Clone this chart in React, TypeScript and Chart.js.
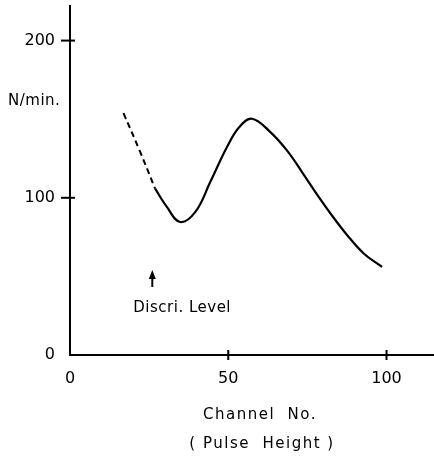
import React, { useEffect, useRef } from "react";
import { Chart, registerables } from "chart.js";

Chart.register(...registerables);

const dashedChannels = [16.9, 22, 26.9];
const dashedCounts = [153.8, 130, 105.8];
const solidChannels = [26.9, 30.6, 34.8, 39.6, 44.3, 49.6, 53.5, 57.5, 63.3, 68.6, 73.3, 78.6, 82.3, 87.6, 92.8, 98.6];
const solidCounts = [105.8, 94.2, 84.6, 91, 110, 132.3, 145, 150.3, 141.8, 130, 116.4, 100.5, 90, 76.2, 64.6, 56];
const xTickValues = [0, 50, 100];
const yTickValues = [0, 100, 200];
const discriLevel = 26;
const FONT = "DejaVu Sans";

const annotations = {
  id: "annotations",
  afterDraw(chart: any) {
    const ctx = chart.ctx;
    const xs = chart.scales.x;
    const ys = chart.scales.y;
    ctx.save();
    ctx.strokeStyle = "#000";
    ctx.fillStyle = "#000";
    ctx.lineWidth = 2;
    const x0 = xs.left;
    const y0 = ys.bottom;
    yTickValues.forEach((v) => {
      if (v === 0) return;
      const py = ys.getPixelForValue(v);
      ctx.beginPath();
      ctx.moveTo(x0 - 9, py);
      ctx.lineTo(x0 + 5, py);
      ctx.stroke();
    });
    xTickValues.forEach((v) => {
      if (v === 0) return;
      const px = xs.getPixelForValue(v);
      ctx.beginPath();
      ctx.moveTo(px, y0 - 5);
      ctx.lineTo(px, y0 + 5);
      ctx.stroke();
    });
    const ax = xs.getPixelForValue(discriLevel);
    ctx.beginPath();
    ctx.moveTo(ax, 287);
    ctx.lineTo(ax, 276);
    ctx.stroke();
    ctx.beginPath();
    ctx.moveTo(ax, 270);
    ctx.lineTo(ax - 3.5, 279);
    ctx.lineTo(ax + 3.5, 279);
    ctx.closePath();
    ctx.fill();
    ctx.font = `15px "${FONT}"`;
    ctx.textBaseline = "middle";
    ctx.textAlign = "left";
    (ctx as any).letterSpacing = "0.5px";
    ctx.fillText("Discri. Level", ax - 19, 308);
    ctx.fillText("N/min.", 8, 101);
    ctx.textAlign = "center";
    (ctx as any).letterSpacing = "1.5px";
    ctx.fillText("Channel  No.", 260, 415);
    ctx.fillText("( Pulse  Height )", 262, 444);
    ctx.restore();
  },
};

export default function App() {
  const ref = useRef<HTMLCanvasElement>(null);
  useEffect(() => {
    if (!ref.current) return;
    const chart = new Chart(ref.current, {
      type: "line",
      data: {
        datasets: [
          {
            data: dashedChannels.map((x, i) => ({ x, y: dashedCounts[i] })),
            borderColor: "#000",
            borderWidth: 2,
            borderDash: [6, 4],
            pointRadius: 0,
            tension: 0.4,
          },
          {
            data: solidChannels.map((x, i) => ({ x, y: solidCounts[i] })),
            borderColor: "#000",
            borderWidth: 2.2,
            pointRadius: 0,
            tension: 0.4,
          },
        ],
      },
      options: {
        animation: false,
        responsive: false,
        maintainAspectRatio: false,
        layout: { padding: { top: 6, right: 0, left: 0, bottom: 0 } },
        plugins: { legend: { display: false }, tooltip: { enabled: false } },
        scales: {
          x: {
            type: "linear",
            min: 0,
            max: 115,
            border: { display: true, color: "#000", width: 2 },
            grid: { display: false, drawTicks: false },
            afterBuildTicks: (s: any) => {
              s.ticks = xTickValues.map((value) => ({ value }));
            },
            afterFit: (s: any) => {
              s.height = 101;
              s.paddingLeft = 0;
              s.paddingRight = 0;
            },
            ticks: {
              color: "#000",
              padding: 14,
              maxRotation: 0,
              font: { family: FONT, size: 16 },
            },
          },
          y: {
            type: "linear",
            min: 0,
            max: 222,
            border: { display: true, color: "#000", width: 2 },
            grid: { display: false, drawTicks: false },
            afterBuildTicks: (s: any) => {
              s.ticks = yTickValues.map((value) => ({ value }));
            },
            afterFit: (s: any) => {
              s.width = 70;
              s.paddingTop = 0;
              s.paddingBottom = 0;
            },
            ticks: {
              color: "#000",
              padding: 15,
              font: { family: FONT, size: 16 },
            },
          },
        },
      },
      plugins: [annotations],
    } as any);
    return () => chart.destroy();
  }, []);
  return (
    <div style={{ position: "fixed", left: 0, top: 0, width: 434, height: 456, background: "#fff" }}>
      <canvas ref={ref} width={434} height={456} />
    </div>
  );
}
